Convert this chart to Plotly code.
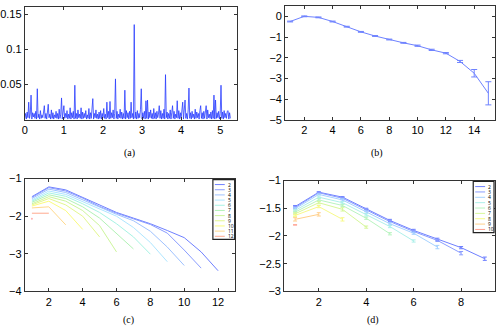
import plotly.graph_objects as go
from plotly.subplots import make_subplots

W, H = 496, 336

# (a) spectrum, values in units of 1e-3, sampled every 0.02
psd_step = 0.02
psd_milli = [
    2, 9, 1, 11, 3, 25, 2, 8, 35, 1, 10, 4,
    9, 2, 12, 1, 44, 3, 8, 1, 13, 2, 7, 3,
    11, 20, 2, 9, 1, 12, 22, 3, 8, 1, 14, 2,
    10, 1, 7, 3, 12, 2, 9, 1, 15, 2, 8, 31,
    1, 11, 20, 2, 9, 3, 13, 1, 8, 2, 17, 1,
    10, 3, 12, 1, 49, 2, 9, 1, 14, 3, 8, 2,
    17, 1, 11, 2, 9, 3, 13, 1, 7, 2, 16, 1,
    10, 2, 12, 30, 1, 9, 3, 14, 2, 8, 1, 11,
    2, 13, 1, 9, 3, 16, 2, 8, 1, 25, 3, 12,
    1, 26, 2, 10, 3, 14, 1, 9, 58, 2, 12, 1,
    8, 3, 15, 2, 11, 1, 9, 2, 42, 1, 13, 3,
    10, 1, 12, 2, 25, 3, 9, 1, 135, 2, 11, 1,
    13, 2, 9, 3, 15, 44, 1, 10, 2, 12, 1, 27,
    2, 28, 1, 11, 3, 14, 2, 9, 1, 16, 2, 10,
    1, 12, 3, 8, 20, 2, 13, 1, 9, 2, 15, 1,
    64, 3, 11, 1, 9, 2, 14, 1, 10, 20, 2, 12,
    1, 8, 3, 27, 2, 13, 1, 10, 2, 15, 25, 1,
    11, 28, 2, 9, 1, 14, 45, 2, 10, 1, 12, 3,
    8, 1, 15, 2, 11, 3, 9, 1, 13, 20, 2, 10,
    1, 12, 2, 9, 20, 1, 14, 3, 8, 2, 11, 1,
    13, 2, 35, 1, 28, 2, 10, 3, 12, 1, 9, 49,
    2, 11, 1, 13, 3, 9, 2, 12, 13, 1, 10, 2,
]

# (b)
b_x = list(range(1, 16))
b_y = [-0.25, 0.0, -0.05, -0.25, -0.5, -0.75, -0.95, -1.12, -1.28, -1.42,
       -1.62, -1.78, -2.18, -2.75, -3.72]
b_err = [0.02, 0.02, 0.02, 0.02, 0.02, 0.02, 0.02, 0.02, 0.02, 0.03,
         0.03, 0.03, 0.05, 0.18, 0.56]

# (c)
c_names = ['2', '3', '4', '5', '6', '7', '8', '9', '10', '11', '12']
c_series = [
    [-1.48, -1.22, -1.30, -1.50, -1.72, -1.90, -2.05, -2.20, -2.38, -2.57, -2.95, -3.45],
    [-1.50, -1.24, -1.33, -1.52, -1.74, -1.92, -2.07, -2.22, -2.45, -2.90, -3.38],
    [-1.53, -1.28, -1.37, -1.56, -1.77, -1.95, -2.12, -2.40, -2.82, -3.31],
    [-1.57, -1.33, -1.42, -1.61, -1.82, -2.00, -2.30, -2.70, -3.21],
    [-1.60, -1.38, -1.47, -1.67, -1.90, -2.20, -2.55, -3.01],
    [-1.63, -1.43, -1.53, -1.75, -2.05, -2.45, -2.87],
    [-1.67, -1.48, -1.60, -1.85, -2.25, -2.95],
    [-1.70, -1.53, -1.70, -2.00, -2.55],
    [-1.73, -1.60, -1.85, -2.35],
    [-1.78, -1.75, -2.23],
    [-1.92, -1.92],
]
c_extra = [-2.07]
c_colors = ['#6f80ff', '#8a9dff', '#9fc2ff', '#aee6ff', '#a6f3e4', '#b2f2b6',
            '#cdf59c', '#e3f78e', '#fbfb7e', '#ffd98c', '#ffa98e']

# (d)
d_names = ['2', '3', '4', '5', '6', '7', '8', '9', '10']
d_series = [
    [-1.47, -1.21, -1.30, -1.51, -1.72, -1.90, -2.06, -2.21, -2.41],
    [-1.49, -1.22, -1.32, -1.53, -1.74, -1.92, -2.08, -2.31],
    [-1.51, -1.25, -1.35, -1.57, -1.78, -1.95, -2.20],
    [-1.54, -1.30, -1.40, -1.62, -1.83, -2.09],
    [-1.57, -1.35, -1.45, -1.68, -1.96],
    [-1.60, -1.40, -1.52, -1.84],
    [-1.63, -1.47, -1.70],
    [-1.70, -1.61],
    [-1.80],
]
d_err = [
    [0.02, 0.01, 0.01, 0.01, 0.02, 0.02, 0.02, 0.02, 0.03],
    [0.02, 0.01, 0.01, 0.02, 0.02, 0.02, 0.02, 0.03],
    [0.02, 0.01, 0.02, 0.02, 0.02, 0.02, 0.03],
    [0.02, 0.02, 0.02, 0.02, 0.02, 0.02],
    [0.02, 0.02, 0.02, 0.02, 0.02],
    [0.02, 0.02, 0.03, 0.02],
    [0.02, 0.02, 0.03],
    [0.03, 0.03],
    [0.0],
]
d_colors = ['#6f80ff', '#8a9dff', '#a6d2ff', '#aef0ea', '#b8f4c0', '#d6f79a',
            '#f7f98a', '#ffcf8a', '#ff9f8e']

fig = make_subplots(rows=2, cols=2)

a_x = [i * psd_step for i in range(len(psd_milli))]
a_y = [v / 1000 for v in psd_milli]
fig.add_trace(go.Scatter(x=a_x, y=a_y, mode='lines',
                         line=dict(color='rgb(40,60,255)', width=0.8),
                         showlegend=False), row=1, col=1)

fig.add_trace(go.Scatter(x=b_x, y=b_y, mode='lines',
                         line=dict(color='rgb(110,130,255)', width=1),
                         error_y=dict(type='data', array=b_err, color='rgb(110,130,255)',
                                      thickness=1, width=3),
                         showlegend=False), row=1, col=2)

for name, ys, col in zip(c_names, c_series, c_colors):
    fig.add_trace(go.Scatter(x=list(range(1, len(ys) + 1)), y=ys, mode='lines', name=name,
                             line=dict(color=col, width=1), showlegend=False),
                  row=2, col=1)
fig.add_trace(go.Scatter(x=[1], y=c_extra, mode='markers',
                         marker=dict(color='#ffb0b0', size=2), showlegend=False),
              row=2, col=1)

for name, ys, es, col in zip(d_names, d_series, d_err, d_colors):
    fig.add_trace(go.Scatter(x=list(range(1, len(ys) + 1)), y=ys, mode='lines', name=name,
                             line=dict(color=col, width=1),
                             error_y=dict(type='data', array=es, color=col,
                                          thickness=1, width=2),
                             showlegend=False),
                  row=2, col=2)


def px_x(p):
    return p / W


def px_y(p):
    return 1 - p / H


def draw_legend(names, colors, box):
    x0, y0, x1, y1 = box
    fig.add_shape(type='rect', xref='paper', yref='paper',
                  x0=px_x(x0), x1=px_x(x1), y0=px_y(y0), y1=px_y(y1),
                  line=dict(color='#222', width=1.2), fillcolor='white', layer='above')
    step = (y1 - y0 - 3) / len(names)
    for i, (n, c) in enumerate(zip(names, colors)):
        yy = y0 + 2.5 + step * (i + 0.5)
        fig.add_shape(type='line', xref='paper', yref='paper',
                      x0=px_x(x0 + 2), x1=px_x(x0 + 12), y0=px_y(yy), y1=px_y(yy),
                      line=dict(color=c, width=1), layer='above')
        fig.add_annotation(xref='paper', yref='paper', x=px_x(x0 + 13), y=px_y(yy),
                           text=n, showarrow=False, xanchor='left', yanchor='middle',
                           font=dict(size=5, color='black'))


draw_legend(c_names, c_colors, (210, 180, 232, 242))
draw_legend(d_names, d_colors, (473, 182, 494, 235))

axis_style = dict(showline=True, linecolor='#333', linewidth=1, mirror='ticks',
                  ticks='inside', ticklen=3, tickcolor='#333', showgrid=False,
                  zeroline=False, tickfont=dict(family='Liberation Sans', size=11, color='black'))

fig.update_xaxes(**axis_style)
fig.update_yaxes(**axis_style)

fig.update_layout(
    width=W, height=H, margin=dict(l=0, r=0, t=0, b=0),
    paper_bgcolor='white', plot_bgcolor='white',
    xaxis=dict(domain=[20 / W, 234 / W], range=[0, 5.42], tickvals=[0, 1, 2, 3, 4, 5]),
    yaxis=dict(domain=[px_y(118), px_y(1)], range=[0, 0.16],
               tickvals=[0.05, 0.1, 0.15], ticktext=['0.05', '0.1', '0.15']),
    xaxis2=dict(domain=[283 / W, 495 / W], range=[0.65, 15.47], tickvals=[2, 4, 6, 8, 10, 12, 14]),
    yaxis2=dict(domain=[px_y(118), 1], range=[-5, 0.5], tickvals=[-5, -4, -3, -2, -1, 0]),
    xaxis3=dict(domain=[20 / W, 232 / W], range=[0.58, 12.98], tickvals=[2, 4, 6, 8, 10, 12]),
    yaxis3=dict(domain=[px_y(296), px_y(179)], range=[-4, -1], tickvals=[-4, -3, -2, -1]),
    xaxis4=dict(domain=[282 / W, 495 / W], range=[0.54, 9.43], tickvals=[2, 4, 6, 8]),
    yaxis4=dict(domain=[px_y(296), px_y(181)], range=[-3, -1],
                tickvals=[-3, -2.5, -2, -1.5, -1]),
)

for lab, x, y in [('(a)', 126, 152), ('(b)', 376, 152), ('(c)', 125, 326), ('(d)', 372, 326)]:
    fig.add_annotation(xref='paper', yref='paper', x=px_x(x), y=px_y(y), text=lab,
                       showarrow=False, xanchor='center', yanchor='middle',
                       font=dict(family='Liberation Serif', size=10, color='black'))

fig.write_html("out.html", config={'displayModeBar': False},
               post_script="document.body.style.margin='0';document.body.style.overflow='hidden';")
